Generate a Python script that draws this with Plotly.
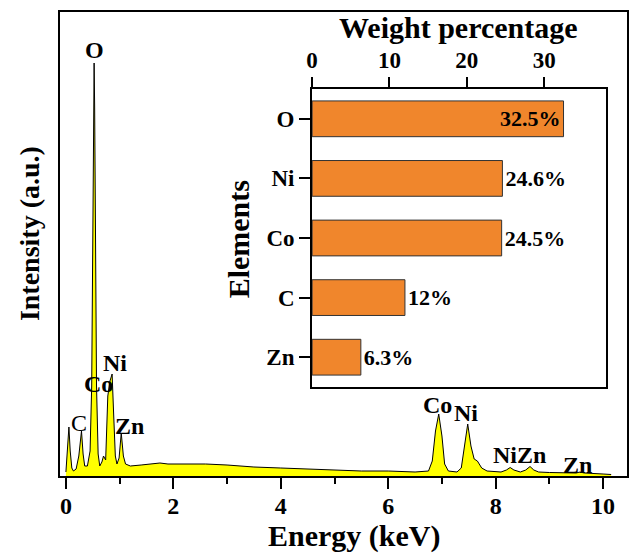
import plotly.graph_objects as go

# ---- EDS spectrum ----
energy_kev = [0.00, 0.03, 0.056, 0.08, 0.11, 0.14, 0.19, 0.24, 0.29, 0.32, 0.35,
              0.40, 0.45, 0.48, 0.50, 0.515, 0.525, 0.535, 0.55, 0.57, 0.60, 0.63,
              0.67, 0.70, 0.74, 0.78, 0.82, 0.86, 0.89, 0.92, 0.95, 0.99, 1.03,
              1.07, 1.11, 1.2, 1.4, 1.6, 1.75, 1.9, 2.2, 2.6, 3.0, 3.5, 4.0, 4.5,
              5.0, 5.5, 6.0, 6.5, 6.75, 6.82, 6.88, 6.94, 7.0, 7.05, 7.12, 7.28,
              7.36, 7.42, 7.48, 7.54, 7.6, 7.66, 7.74, 7.84, 8.1, 8.2, 8.27, 8.34,
              8.46, 8.56, 8.64, 8.71, 8.8, 9.0, 9.3, 9.5, 9.57, 9.65, 10.0, 10.15]
intensity = [4, 25, 49, 25, 8, 5, 7, 20, 45, 22, 10,
             10, 25, 90, 230, 370, 413, 370, 230, 90, 22, 10,
             14, 20, 16, 80, 95, 102, 60, 20, 12, 18, 43,
             20, 12, 10, 11, 12, 13, 12, 12, 12, 11, 9, 8, 7,
             6, 5, 5, 4, 5, 15, 45, 62, 40, 12, 5, 4,
             8, 30, 52, 30, 17, 15, 8, 5, 4, 6, 8.5, 6,
             4, 6, 9.5, 6, 4, 3.5, 3, 3, 4, 3, 2, 1.5]

# peak labels: (text, energy, intensity, bold)
peak_labels = ["O", "C", "Co", "Ni", "Zn", "Co", "Ni", "NiZn", "Zn"]
peak_label_e = [0.54, 0.25, 0.61, 0.91, 1.19, 6.92, 7.44, 8.44, 9.52]
peak_label_i = [426, 53, 92, 113, 50, 71, 63, 21, 11]
peak_label_bold = [True, False, True, True, True, True, True, True, True]

# ---- inset: weight percentage ----
elements = ["O", "Ni", "Co", "C", "Zn"]
weight_pct = [32.5, 24.6, 24.5, 12, 6.3]
weight_text = ["32.5%", "24.6%", "24.5%", "12%", "6.3%"]

FONT = "Liberation Serif"

fig = go.Figure()
fig.add_trace(go.Scatter(
    x=energy_kev, y=intensity, mode="lines", fill="tozeroy",
    fillcolor="#FFFF00", line=dict(color="black", width=1),
    xaxis="x", yaxis="y", showlegend=False, hoverinfo="skip"))

fig.add_trace(go.Bar(
    x=weight_pct, y=elements, orientation="h", xaxis="x2", yaxis="y2",
    marker=dict(color="#F0862C", line=dict(color="#333333", width=1)),
    width=0.6, text=weight_text,
    textposition=["inside", "outside", "outside", "outside", "outside"],
    insidetextanchor="end",
    textfont=dict(family=FONT, size=22, color="black", weight="bold"),
    outsidetextfont=dict(family=FONT, size=22, color="black", weight="bold"),
    insidetextfont=dict(family=FONT, size=22, color="black", weight="bold"),
    cliponaxis=False, showlegend=False))

annotations = []
for t, e, i, b in zip(peak_labels, peak_label_e, peak_label_i, peak_label_bold):
    annotations.append(dict(
        x=e, y=i, xref="x", yref="y", text=(f"<b>{t}</b>" if b else t),
        showarrow=False, xanchor="center", yanchor="middle",
        font=dict(family=FONT, size=24, color="black")))

W, H = 569.0, 464.0
def px(xp):
    return (xp - 60) / W
def py(yp):
    return (476 - yp) / H

annotations += [
    dict(x=px(29), y=py(234), xref="paper", yref="paper", text="<b>Intensity (a.u.)</b>",
         textangle=-90, showarrow=False, xanchor="center", yanchor="middle",
         font=dict(family=FONT, size=28, color="black")),
    dict(x=px(355), y=py(536), xref="paper", yref="paper", text="<b>Energy (keV)</b>",
         showarrow=False, xanchor="center", yanchor="middle",
         font=dict(family=FONT, size=30, color="black")),
    dict(x=px(460), y=py(28), xref="paper", yref="paper", text="<b>Weight percentage</b>",
         showarrow=False, xanchor="center", yanchor="middle",
         font=dict(family=FONT, size=30, color="black")),
    dict(x=px(239), y=py(239), xref="paper", yref="paper", text="<b>Elements</b>",
         textangle=-90, showarrow=False, xanchor="center", yanchor="middle",
         font=dict(family=FONT, size=30, color="black")),
]

tickfont = dict(family=FONT, size=24, color="black", weight="bold")

fig.update_layout(
    width=632, height=554,
    margin=dict(l=60, r=3, t=12, b=78),
    paper_bgcolor="white", plot_bgcolor="white",
    annotations=annotations,
    xaxis=dict(range=[-0.11, 10.445], dtick=2, tick0=0, ticks="outside", ticklen=11,
               tickwidth=2, tickcolor="black", showline=True, linewidth=2,
               linecolor="black", mirror=True, showgrid=False, zeroline=False,
               tickfont=tickfont, ticklabelstandoff=-4,
               minor=dict(dtick=1, tick0=0, ticks="outside", ticklen=6, tickwidth=2,
                          tickcolor="black", showgrid=False)),
    yaxis=dict(range=[0, 464], showticklabels=False, ticks="", showline=True,
               linewidth=2, linecolor="black", mirror=True, showgrid=False,
               zeroline=False),
    xaxis2=dict(domain=[px(313), px(608)], anchor="y2", side="top", range=[0, 38],
                dtick=10, tick0=0, ticks="outside", ticklen=10, tickwidth=2,
                tickcolor="black", showline=True, linewidth=2, linecolor="black",
                mirror=True, showgrid=False, zeroline=False,
                tickfont=dict(family=FONT, size=23, color="black", weight="bold")),
    yaxis2=dict(domain=[py(387), py(89)], anchor="x2", range=[4.5, -0.5],
                type="category", categoryorder="array", categoryarray=elements,
                ticks="outside", ticklen=11, tickwidth=2, tickcolor="black",
                showline=True, linewidth=2, linecolor="black", mirror=True,
                showgrid=False, zeroline=False,
                tickfont=dict(family=FONT, size=23, color="black", weight="bold")),
)

fig.write_html("out.html")
